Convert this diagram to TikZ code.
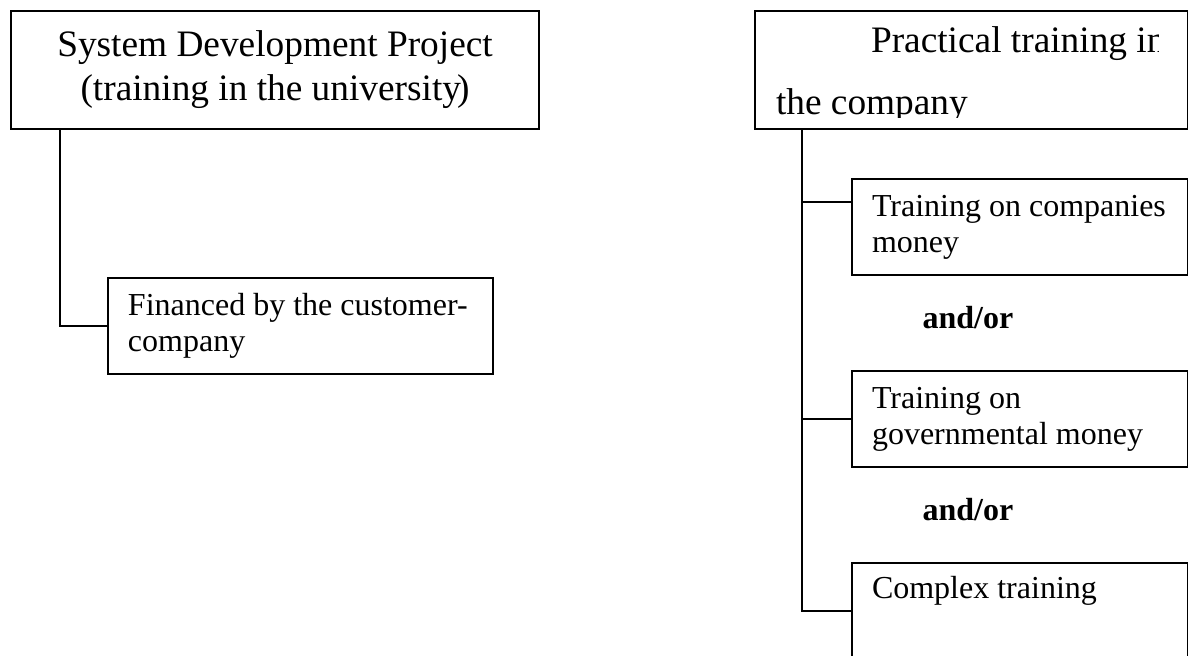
\documentclass[tikz,border=0pt]{standalone}
\usepackage{fontspec}
\setmainfont{Liberation Serif}
\usetikzlibrary{calc}

\begin{document}
\begin{tikzpicture}[x=0.375pt, y=-0.375pt, line width=0.75pt,
  bigbox/.style={draw, rectangle, anchor=north west, minimum height=44.25pt, inner sep=0pt, align=center, font=\fontsize{14}{16.5}\selectfont},
  leaf/.style={draw, rectangle, anchor=north west, minimum height=36pt, inner xsep=7.5pt, inner ysep=0pt, align=flush left, font=\fontsize{12}{13.5}\selectfont},
  bigtxt/.style={anchor=base west, inner sep=0pt, font=\fontsize{14}{16.5}\selectfont},
  andor/.style={inner sep=0pt, font=\fontsize{12}{13.5}\selectfont\bfseries}]
  \useasboundingbox (0,0) rectangle (1188,656);
  \clip (0,0) rectangle (1188,656);

  \node[bigbox, minimum width=198pt] (proj) at (10,10) {System Development Project\\(training in the university\kern-1.5pt)};
  \node[leaf, text width=129.4pt] (fin) at (107,277) {\mbox{Financed by the customer-}\\company};
  \draw ([xshift=18.75pt]proj.south west) |- (fin.west);

  \node[bigbox, minimum width=162.4pt] (prac) at (754,10) {};
  \begin{scope}
    \clip (754,10) rectangle (1158,118);
    \node[bigtxt] (prac1) at (870,53) {Practical training in};
    \node[bigtxt] (prac2) at (775,115) {the company};
  \end{scope}

  \node[leaf, text width=111pt] (comp) at (851,178) {\mbox{Training on companies}\\money};
  \node[andor] (or1) at (968,318) {and/or};
  \node[leaf, text width=111pt] (gov) at (851,370) {Training on\\governmental money};
  \node[andor] (or2) at (968,510) {and/or};
  \node[leaf, text width=111pt] (cplx) at (851,562) {Complex training\\\strut};

  \coordinate (trunk) at ([xshift=18pt]prac.south west);
  \draw (trunk) |- (cplx.west);
  \draw ([yshift=9.4pt]comp.west) -- ([yshift=9.4pt]comp.west -| trunk);
  \draw (gov.west) -- (gov.west -| trunk);
\end{tikzpicture}
\end{document}
